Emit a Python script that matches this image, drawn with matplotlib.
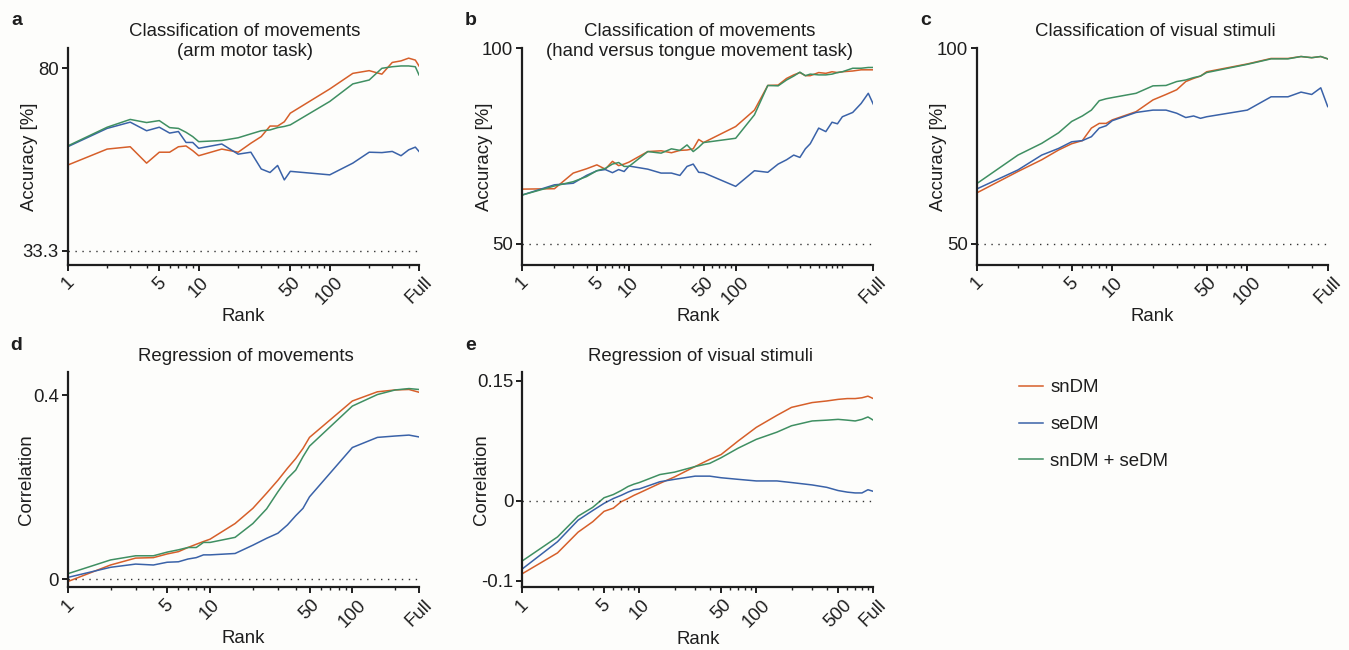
import matplotlib
matplotlib.use("Agg")
import matplotlib.pyplot as plt
from matplotlib.ticker import FixedLocator, NullFormatter
import numpy as np

plt.rcParams['font.family'] = ['Liberation Sans', 'DejaVu Sans']

C_SN = '#d65f2a'
C_SE = '#3a62a8'
C_BOTH = '#3f8f62'

# ---------------- Panel a ----------------
a_full = 480
a_rank = [1, 2, 3, 4, 5, 6, 7, 8, 9, 10, 15, 20, 25, 30, 35, 40, 45, 50, 100, 150, 200, 250, 300, 350, 400, 450, a_full]
a_sn = [55.2, 59.3, 59.9, 55.7, 58.5, 58.5, 59.9, 60.1, 58.9, 57.6, 59.3, 58.5, 60.8, 62.5, 65.2, 65.2, 66.3, 68.5, 74.7, 78.7, 79.4, 78.5, 81.5, 81.9, 82.6, 82.1, 80.6]
a_se = [59.9, 64.6, 66.2, 64.0, 64.9, 63.4, 63.8, 61.0, 61.0, 59.5, 60.6, 58.0, 58.5, 54.2, 53.3, 55.1, 51.4, 53.6, 52.7, 55.7, 58.5, 58.4, 58.7, 57.6, 59.1, 59.8, 58.7]
a_both = [60.1, 64.9, 66.9, 66.1, 66.6, 64.8, 64.6, 63.6, 62.5, 61.2, 61.5, 62.2, 63.2, 64.0, 64.2, 64.8, 65.1, 65.5, 71.5, 76.0, 77.0, 80.0, 80.4, 80.6, 80.6, 80.4, 78.3]

# ---------------- Panel b ----------------
b_full = 1950
b_rank = [1, 2, 3, 4, 5, 6, 7, 8, 9, 10, 15, 20, 25, 30, 35, 40, 45, 50, 100, 150, 200, 250, 300, 350, 400, 450, 500, 600, 700, 800, 900, 1000, 1250, 1500, 1750, b_full]
b_sn = [64.0, 64.1, 68.1, 69.2, 70.2, 69.1, 71.1, 70.0, 70.4, 70.9, 73.6, 73.8, 73.3, 73.9, 74.0, 74.3, 76.7, 75.9, 80.0, 84.2, 90.5, 90.6, 92.3, 93.2, 93.8, 93.0, 93.0, 93.8, 93.6, 94.0, 93.8, 94.0, 94.2, 94.5, 94.5, 94.5]
b_se = [62.5, 65.1, 65.5, 67.5, 68.7, 69.0, 68.2, 69.0, 68.5, 69.9, 69.1, 68.1, 68.1, 67.5, 69.8, 70.4, 68.3, 68.2, 64.7, 68.7, 68.3, 70.4, 71.5, 72.7, 72.1, 74.3, 75.6, 79.6, 78.7, 81.1, 80.7, 82.5, 83.6, 85.9, 88.5, 85.7]
b_both = [62.5, 64.8, 65.9, 67.2, 68.7, 69.3, 70.4, 70.8, 69.8, 69.8, 73.6, 73.2, 74.3, 73.9, 75.3, 73.6, 74.7, 75.9, 77.0, 83.0, 90.5, 90.4, 91.9, 92.9, 93.9, 93.0, 93.4, 93.2, 93.2, 93.4, 93.8, 94.0, 94.9, 94.9, 95.1, 95.1]

# ---------------- Panel c ----------------
c_full = 394
c_rank = [1, 2, 3, 4, 5, 6, 7, 8, 9, 10, 15, 20, 25, 30, 35, 40, 45, 50, 100, 150, 200, 250, 300, 350, c_full]
c_sn = [63.1, 68.5, 71.5, 74.0, 75.6, 76.4, 79.6, 80.8, 80.8, 81.7, 83.8, 86.8, 88.2, 89.4, 91.5, 92.3, 92.9, 94.0, 96.0, 97.4, 97.4, 97.9, 97.6, 97.9, 97.3]
c_se = [64.1, 68.9, 72.7, 74.4, 76.1, 76.4, 77.4, 79.6, 80.2, 81.5, 83.6, 84.2, 84.2, 83.4, 82.3, 82.7, 82.1, 82.5, 84.2, 87.6, 87.6, 88.8, 88.2, 89.9, 85.1]
c_both = [65.5, 72.7, 75.7, 78.4, 81.3, 82.7, 84.2, 86.6, 87.1, 87.4, 88.5, 90.4, 90.5, 91.5, 91.9, 92.5, 92.9, 93.8, 95.9, 97.3, 97.3, 97.9, 97.6, 97.9, 97.3]

# ---------------- Panel d ----------------
d_full = 294
d_rank = [1, 2, 3, 4, 5, 6, 7, 8, 9, 10, 15, 20, 25, 30, 35, 40, 45, 50, 100, 150, 200, 250, d_full]
d_sn = [-0.005, 0.031, 0.046, 0.047, 0.055, 0.060, 0.069, 0.076, 0.082, 0.087, 0.121, 0.154, 0.187, 0.215, 0.241, 0.262, 0.284, 0.308, 0.387, 0.407, 0.411, 0.412, 0.406]
d_se = [0.004, 0.026, 0.033, 0.031, 0.037, 0.038, 0.044, 0.047, 0.053, 0.053, 0.056, 0.074, 0.089, 0.100, 0.118, 0.138, 0.154, 0.179, 0.286, 0.308, 0.311, 0.313, 0.309]
d_both = [0.012, 0.042, 0.051, 0.051, 0.059, 0.064, 0.069, 0.069, 0.080, 0.080, 0.091, 0.121, 0.153, 0.190, 0.219, 0.237, 0.266, 0.289, 0.376, 0.401, 0.411, 0.414, 0.412]

# ---------------- Panel e ----------------
e_full = 1000
e_rank = [1, 2, 3, 4, 5, 6, 7, 8, 9, 10, 15, 20, 30, 40, 50, 70, 100, 150, 200, 300, 400, 500, 600, 700, 800, 900, e_full]
e_sn = [-0.091, -0.065, -0.039, -0.026, -0.013, -0.009, -0.001, 0.003, 0.007, 0.010, 0.022, 0.030, 0.043, 0.052, 0.058, 0.075, 0.092, 0.107, 0.117, 0.123, 0.125, 0.127, 0.128, 0.128, 0.129, 0.131, 0.128]
e_se = [-0.085, -0.051, -0.024, -0.012, -0.003, 0.003, 0.007, 0.011, 0.014, 0.015, 0.024, 0.027, 0.031, 0.031, 0.029, 0.027, 0.025, 0.025, 0.023, 0.020, 0.017, 0.013, 0.011, 0.010, 0.010, 0.014, 0.012]
e_both = [-0.075, -0.045, -0.019, -0.008, 0.004, 0.008, 0.013, 0.018, 0.021, 0.023, 0.033, 0.036, 0.043, 0.047, 0.054, 0.066, 0.077, 0.086, 0.094, 0.100, 0.101, 0.102, 0.101, 0.100, 0.102, 0.105, 0.101]

series_labels = ['snDM', 'seDM', 'snDM + seDM']

fig = plt.figure(figsize=(13.49, 6.50), dpi=100, facecolor='#fdfdfb')

W, H = 1349.0, 650.0


def make_ax(left_px, right_px, top_px, bottom_px):
    return fig.add_axes([left_px / W, 1 - bottom_px / H, (right_px - left_px) / W, (bottom_px - top_px) / H])


FS = 13.4
DARK = '#1e1e1e'


def style(ax, full, ticks, ticklabels, ylim, yticks, yticklabels, chance, ylabel):
    ax.set_facecolor('none')
    ax.set_xscale('log')
    ax.set_xlim(1, full)
    ax.set_ylim(*ylim)
    for s in ['top', 'right']:
        ax.spines[s].set_visible(False)
    for s in ['left', 'bottom']:
        ax.spines[s].set_linewidth(1.6)
        ax.spines[s].set_color(DARK)
    ax.xaxis.set_major_locator(FixedLocator(ticks))
    ax.set_xticklabels(ticklabels, rotation=45, ha='center', fontsize=FS, color=DARK)
    minors = []
    for dec in [1, 10, 100, 1000]:
        for m in range(1, 10):
            v = dec * m
            if 1 < v < full and v not in ticks:
                minors.append(v)
    ax.xaxis.set_minor_locator(FixedLocator(minors))
    ax.xaxis.set_minor_formatter(NullFormatter())
    ax.set_yticks(yticks)
    ax.set_yticklabels(yticklabels, fontsize=FS, color=DARK)
    ax.tick_params(axis='both', which='major', length=4.5, width=1.4, color=DARK, pad=2)
    ax.tick_params(axis='x', which='minor', length=2.5, width=1.0, color=DARK)
    ax.tick_params(axis='y', which='minor', left=False)
    ax.axhline(chance, xmin=0, xmax=1, color='#333333', lw=1.0, ls=(0, (1, 4)))
    ax.set_xlabel('Rank', fontsize=FS, color=DARK, labelpad=0)
    ax.set_ylabel(ylabel, fontsize=FS, color=DARK)


def plot3(ax, x, sn, se, both):
    ax.plot(x, sn, color=C_SN, lw=1.1, label=series_labels[0])
    ax.plot(x, se, color=C_SE, lw=1.1, label=series_labels[1])
    ax.plot(x, both, color=C_BOTH, lw=1.1, label=series_labels[2])


# Panel a
axa = make_ax(67.7, 419.0, 48.0, 265.0)
plot3(axa, a_rank, a_sn, a_se, a_both)
style(axa, a_full, [1, 5, 10, 50, 100, a_full], ['1', '5', '10', '50', '100', 'Full'],
      (29.6, 85.2), [33.3, 80], ['33.3', '80'], 33.3, 'Accuracy [%]')

# Panel b
axb = make_ax(522.3, 873.3, 48.3, 265.0)
plot3(axb, b_rank, b_sn, b_se, b_both)
style(axb, b_full, [1, 5, 10, 50, 100, b_full], ['1', '5', '10', '50', '100', 'Full'],
      (44.6, 100), [50, 100], ['50', '100'], 50, 'Accuracy [%]')

# Panel c
axc = make_ax(977.3, 1327.7, 48.3, 265.0)
plot3(axc, c_rank, c_sn, c_se, c_both)
style(axc, c_full, [1, 5, 10, 50, 100, c_full], ['1', '5', '10', '50', '100', 'Full'],
      (44.6, 100), [50, 100], ['50', '100'], 50, 'Accuracy [%]')

# Panel d
axd = make_ax(67.7, 419.0, 371.7, 587.3)
plot3(axd, d_rank, d_sn, d_se, d_both)
style(axd, d_full, [1, 5, 10, 50, 100, d_full], ['1', '5', '10', '50', '100', 'Full'],
      (-0.0174, 0.4506), [0, 0.4], ['0', '0.4'], 0, 'Correlation')

# Panel e
axe = make_ax(522.3, 873.3, 371.7, 587.3)
plot3(axe, e_rank, e_sn, e_se, e_both)
style(axe, e_full, [1, 5, 10, 50, 100, 500, e_full], ['1', '5', '10', '50', '100', '500', 'Full'],
      (-0.108, 0.1616), [-0.1, 0, 0.15], ['-0.1', '0', '0.15'], 0, 'Correlation')

# y label positions
for ax, xpx in [(axa, 38), (axb, 493), (axc, 947), (axd, 35), (axe, 490)]:
    pos = ax.get_position()
    ax.yaxis.set_label_coords((xpx / W - pos.x0) / pos.width, 0.5)
    ax.yaxis.label.set_verticalalignment('bottom')

# Titles (baseline positions in pixels)
def ftext(xpx, ypx, s, **kw):
    fig.text(xpx / W, 1 - ypx / H, s, fontsize=FS, color=DARK, va='baseline', **kw)

ftext(245, 36.5, 'Classification of movements', ha='center')
ftext(245, 55.5, '(arm motor task)', ha='center')
ftext(700, 36.5, 'Classification of movements', ha='center')
ftext(700, 55.5, '(hand versus tongue movement task)', ha='center')
ftext(1155, 36.5, 'Classification of visual stimuli', ha='center')
ftext(246, 361.5, 'Regression of movements', ha='center')
ftext(700, 361.5, 'Regression of visual stimuli', ha='center')

# Panel letters
for xpx, ypx, s in [(11, 25, 'a'), (465, 25, 'b'), (920, 25, 'c'), (10, 350.5, 'd'), (465, 350.5, 'e')]:
    fig.text(xpx / W, 1 - ypx / H, s, fontsize=14, fontweight='bold', color=DARK, va='baseline', ha='left')

# Legend
handles, labels = axa.get_legend_handles_labels()
leg = fig.legend(handles, labels, loc='upper left', bbox_to_anchor=(1012 / W, 1 - 372 / H),
                 frameon=False, fontsize=FS, handlelength=1.25, handletextpad=0.4, labelspacing=1.05,
                 borderaxespad=0)
for t in leg.get_texts():
    t.set_color(DARK)

fig.savefig('out.png', dpi=100, facecolor=fig.get_facecolor())
